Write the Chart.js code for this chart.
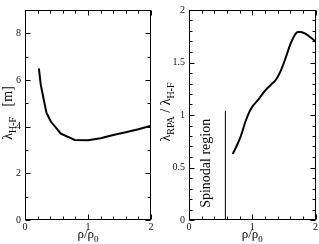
<!DOCTYPE html>
<html><head><meta charset="utf-8">
<script src="https://cdn.jsdelivr.net/npm/chart.js@4/dist/chart.umd.min.js"></script>
<style>
html,body{margin:0;padding:0;background:#fff;overflow:hidden;}
#wrap{position:relative;width:319px;height:244px;}
#c1{position:absolute;left:0;top:0;}
#c2{position:absolute;left:160px;top:0;}
</style></head><body>
<div id="wrap">
<canvas id="c1" width="160" height="244"></canvas>
<canvas id="c2" width="159" height="244"></canvas>
</div>
<script>
// ---- data ----
const xTickLabels = [0, 1, 2];
const rhoHF = [0.22, 0.25, 0.29, 0.34, 0.41, 0.57, 0.79, 1.0, 1.2, 1.4, 1.6, 1.8, 2.0];
const lambdaHF = [6.5, 5.8, 5.26, 4.6, 4.22, 3.7, 3.43, 3.42, 3.5, 3.64, 3.76, 3.89, 4.04];
const rhoRatio = [0.69, 0.75, 0.82, 0.9, 0.98, 1.1, 1.2, 1.3, 1.38, 1.45, 1.52, 1.6, 1.67, 1.72, 1.77, 1.85, 1.92, 2.0];
const ratioRPA = [0.63, 0.70, 0.80, 0.95, 1.06, 1.15, 1.23, 1.29, 1.34, 1.42, 1.53, 1.67, 1.76, 1.79, 1.79, 1.77, 1.74, 1.70];
const spinodalRho = [0.575, 0.575];
const spinodalVal = [0, 1.04];

const FONT = "'Liberation Serif','DejaVu Serif','Times New Roman',serif";

function drawRich(ctx, parts, cx, cy, rot, size) {
  ctx.save();
  const sub = Math.round(size * 0.72);
  let total = 0;
  parts.forEach(p => { ctx.font = (p.sub ? sub : size) + 'px ' + FONT; p.w = ctx.measureText(p.t).width; total += p.w; });
  ctx.translate(cx, cy);
  ctx.rotate(rot);
  ctx.fillStyle = '#000';
  ctx.textBaseline = 'alphabetic';
  ctx.textAlign = 'left';
  let x = -total / 2;
  const base = size * 0.33;
  parts.forEach(p => {
    ctx.font = (p.sub ? sub : size) + 'px ' + FONT;
    ctx.fillText(p.t, x, base + (p.sub ? size * 0.3 : 0));
    x += p.w;
  });
  ctx.restore();
}

function framePlugin(cfg) {
  return {
    id: 'frame' + cfg.name,
    afterDraw(chart) {
      const ctx = chart.ctx, a = chart.chartArea;
      const xs = chart.scales.x, ys = chart.scales.y;
      ctx.save();
      ctx.strokeStyle = '#000';
      ctx.lineWidth = 1;
      const L = Math.round(a.left) + 0.5, R = Math.round(a.right) - 0.5;
      const T = Math.round(a.top) + 0.5, B = Math.round(a.bottom) - 0.5;
      ctx.strokeRect(L, T, R - L, B - T);
      ctx.beginPath();
      for (let i = 0; i <= 10; i++) {
        const v = i * 0.2;
        const px = Math.round(xs.getPixelForValue(v)) + 0.5;
        const len = (i % 5 === 0) ? 5 : 3;
        ctx.moveTo(px, B); ctx.lineTo(px, B - len);
        ctx.moveTo(px, T); ctx.lineTo(px, T + len);
      }
      const n = Math.round(cfg.yMax / cfg.yMinor);
      for (let i = 0; i <= n; i++) {
        const v = i * cfg.yMinor;
        const py = Math.round(ys.getPixelForValue(v)) + 0.5;
        const len = (i % cfg.majorEvery === 0) ? 5 : 3;
        ctx.moveTo(L, py); ctx.lineTo(L + len, py);
        ctx.moveTo(R, py); ctx.lineTo(R - len, py);
      }
      ctx.stroke();
      ctx.restore();
      // axis titles
      const cxp = (a.left + a.right) / 2;
      drawRich(ctx, [{t: 'ρ/ρ'}, {t: '0', sub: true}], cxp, 234, 0, 13);
      drawRich(ctx, cfg.yTitle, cfg.yTitleX, cfg.yTitleY, -Math.PI / 2, 14);
      if (cfg.extra) cfg.extra(chart);
    }
  };
}

function makeOptions(cfg) {
  return {
    responsive: false, animation: false, events: [],
    layout: {padding: {left: 0, right: cfg.padRight, top: 3, bottom: 0}},
    plugins: {legend: {display: false}, tooltip: {enabled: false}},
    scales: {
      x: {
        type: 'linear', min: 0, max: 2,
        afterBuildTicks: s => { s.ticks = xTickLabels.map(v => ({value: v})); },
        ticks: {font: {family: FONT, size: 10}, color: '#111', padding: 1, maxRotation: 0, autoSkip: false},
        grid: {display: false, drawTicks: false}, border: {display: false},
        afterFit: s => { s.height = 24; }
      },
      y: {
        type: 'linear', min: 0, max: cfg.yMax,
        ticks: {stepSize: cfg.yStep, includeBounds: false, font: {family: FONT, size: 10}, color: '#111', padding: cfg.yPad,
                callback: v => String(Math.round(v * 10) / 10)},
        grid: {display: false, drawTicks: false}, border: {display: false},
        afterFit: s => { s.width = cfg.yWidth; }
      }
    }
  };
}

const leftCfg = {name: 'L', yMax: 9, yStep: 2, yMinor: 1, majorEvery: 2, padRight: 9, yWidth: 25, yPad: 4,
  yTitle: [{t: 'λ'}, {t: 'H-F', sub: true}, {t: '   [m]'}], yTitleX: 7, yTitleY: 113};
new Chart(document.getElementById('c1'), {
  type: 'line',
  data: {datasets: [{
    data: rhoHF.map((x, i) => ({x, y: lambdaHF[i]})),
    borderColor: '#000', borderWidth: 2, pointRadius: 0, tension: 0, fill: false
  }]},
  options: makeOptions(leftCfg),
  plugins: [framePlugin(leftCfg)]
});

const rightCfg = {name: 'R', yMax: 2, yStep: 0.5, yMinor: 0.1, majorEvery: 5, padRight: 3, yWidth: 29, yPad: 4,
  yTitle: [{t: 'λ'}, {t: 'RPA', sub: true}, {t: ' / λ'}, {t: 'H-F', sub: true}], yTitleX: 5, yTitleY: 112,
  extra(chart) {
    const ctx = chart.ctx;
    const px = chart.scales.x.getPixelForValue(0.275);
    const py = chart.scales.y.getPixelForValue(0.54);
    ctx.save();
    ctx.translate(px, py);
    ctx.rotate(-Math.PI / 2);
    ctx.font = '14px ' + FONT;
    ctx.fillStyle = '#000';
    ctx.textAlign = 'center';
    ctx.textBaseline = 'middle';
    ctx.fillText('Spinodal region', 0, 0);
    ctx.restore();
  }};
new Chart(document.getElementById('c2'), {
  type: 'line',
  data: {datasets: [
    {data: rhoRatio.map((x, i) => ({x, y: ratioRPA[i]})),
     borderColor: '#000', borderWidth: 2, pointRadius: 0, cubicInterpolationMode: 'monotone', fill: false},
    {data: spinodalRho.map((x, i) => ({x, y: spinodalVal[i]})),
     borderColor: '#000', borderWidth: 1, pointRadius: 0, tension: 0, fill: false}
  ]},
  options: makeOptions(rightCfg),
  plugins: [framePlugin(rightCfg)]
});
</script>
</body></html>
